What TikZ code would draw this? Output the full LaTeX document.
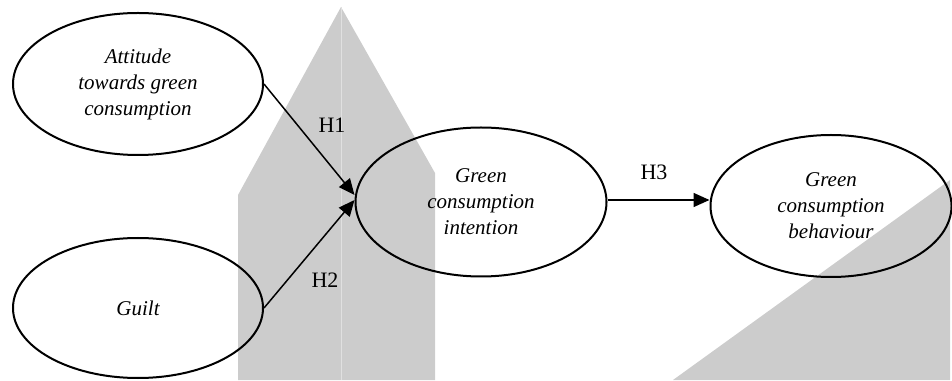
\documentclass[tikz,border=0pt]{standalone}
\usepackage{fontspec}
\setmainfont{Liberation Serif}
\usetikzlibrary{arrows.meta,shapes.geometric}
\tikzset{
  construct/.style={draw, ellipse, line width=2pt, inner sep=0pt, align=center,
    font=\fontsize{21}{26}\selectfont\itshape},
  hyp/.style={font=\fontsize{22}{26}\selectfont},
  path/.style={line width=1.5pt, -{Triangle[length=16pt,width=14pt]}},
  backdrop/.style={fill=black!20, draw=none}
}

\begin{document}
\begin{tikzpicture}[x=1pt, y=1pt]
			%%%%% START %%%%%
			\useasboundingbox (0, 0) rectangle (952, 380);
			
			% grey shapes behind
			\fill[backdrop] (238, 0) -- (238, 185) -- (341, 373) -- (435, 207) -- (435, 0) -- cycle;
			\draw[black!12, line width=0.6pt] (341, 373) -- (341, 0);
			\fill[backdrop] (673, 0) -- (950, 200) -- (950, 0) -- cycle;
			
			% constructs
			\node[construct, minimum width=250pt, minimum height=142pt] (att) at (138, 296)
				{Attitude\\towards green\\consumption};
			\node[construct, minimum width=250pt, minimum height=140pt] (guilt) at (138, 72)
				{\raisebox{-8pt}{Guilt}};
			\node[construct, minimum width=251pt, minimum height=149pt] (int) at (481, 178)
				{Green\\consumption\\intention};
			\node[construct, minimum width=241pt, minimum height=142pt] (beh) at (831, 174)
				{Green\\consumption\\behaviour};
			
			% paths
			\draw[path] (att.east) -- ([yshift=7pt]int.west);
			\draw[path] (guilt.east) -- ([yshift=2pt]int.west);
			\draw[path] ([yshift=2pt]int.east) -- ([yshift=2pt]int.east -| beh.west);
			
			\node[hyp] (h1) at (332, 255) {H1};
			\node[hyp] (h2) at (325, 100) {H2};
			\node[hyp] (h3) at (654, 208) {H3};
			
			%%%%% END %%%%%
\end{tikzpicture}
\end{document}
